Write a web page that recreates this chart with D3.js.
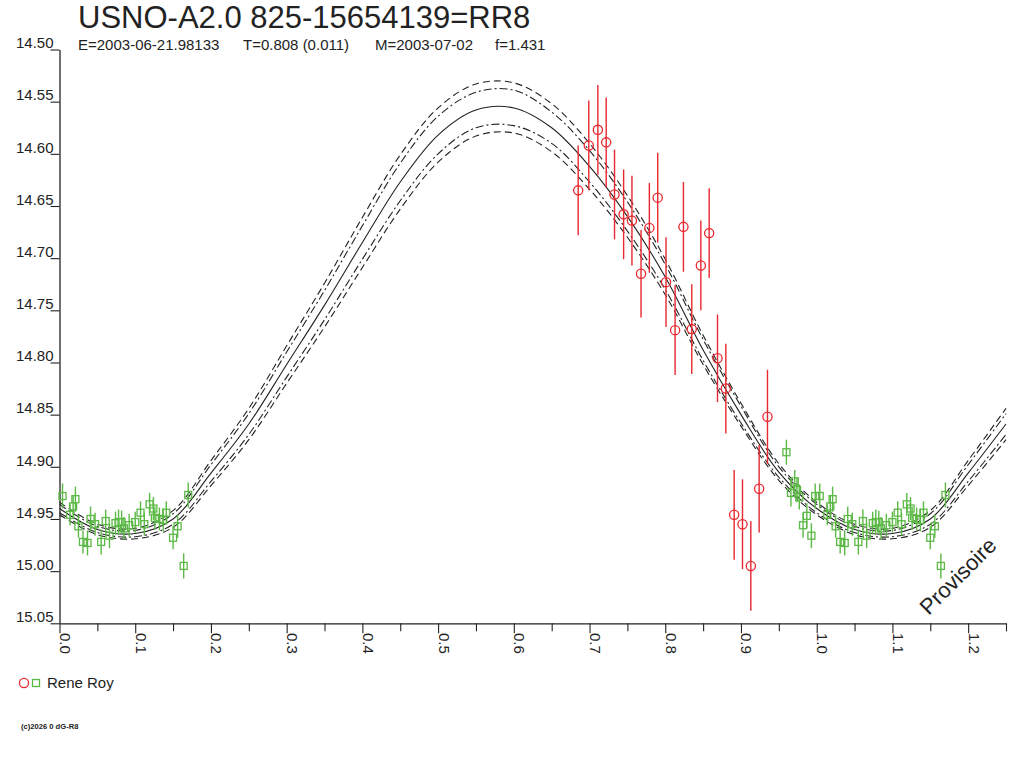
<!DOCTYPE html>
<html><head><meta charset="utf-8">
<script src="https://cdn.jsdelivr.net/npm/d3@7"></script>
<style>
body{margin:0;background:#fff}
svg{display:block}
text{font-family:"Liberation Sans",Arial,Helvetica,sans-serif;fill:#222}
</style>
</head><body>
<svg id="chart" width="1024" height="768"></svg>
<script>
// ---------- data ----------
const titleText = "USNO-A2.0 825-15654139=RR8";
const subtitleFields = ["E=2003-06-21.98133", "T=0.808 (0.011)", "M=2003-07-02", "f=1.431"];
const yTickValues = [14.50, 14.55, 14.60, 14.65, 14.70, 14.75, 14.80, 14.85, 14.90, 14.95, 15.00, 15.05];
const xTickValues = [0, 0.05, 0.1, 0.15, 0.2, 0.25, 0.3, 0.35, 0.4, 0.45, 0.5, 0.55, 0.6, 0.65, 0.7, 0.75, 0.8, 0.85, 0.9, 0.95, 1.0, 1.05, 1.1, 1.15, 1.2, 1.25];
const xLabelTicks = [0, 0.1, 0.2, 0.3, 0.4, 0.5, 0.6, 0.7, 0.8, 0.9, 1.0, 1.1, 1.2];

// model light curve (phase, magnitude) and band half-widths
const modelPhase = [0, 0.05, 0.1, 0.15, 0.2, 0.25, 0.3, 0.35, 0.4, 0.45, 0.5, 0.55, 0.6, 0.65, 0.7, 0.75, 0.8, 0.85, 0.9, 0.95, 1.0, 1.05, 1.1, 1.15, 1.2, 1.25];
const modelMid   = [14.940, 14.960, 14.964, 14.950, 14.906, 14.859, 14.802, 14.745, 14.685, 14.627, 14.582, 14.558, 14.556, 14.575, 14.612, 14.660, 14.718, 14.788, 14.850, 14.905, 14.940, 14.960, 14.964, 14.950, 14.906, 14.859];
const modelOuter = [0.006, 0.005, 0.005, 0.008, 0.012, 0.015, 0.018, 0.021, 0.024, 0.026, 0.026, 0.025, 0.024, 0.023, 0.022, 0.020, 0.017, 0.014, 0.011, 0.008, 0.006, 0.005, 0.005, 0.008, 0.012, 0.015];
const modelInner = [0.004, 0.003, 0.003, 0.005, 0.008, 0.010, 0.012, 0.014, 0.016, 0.018, 0.018, 0.017, 0.017, 0.015, 0.015, 0.014, 0.012, 0.010, 0.008, 0.005, 0.004, 0.003, 0.003, 0.005, 0.008, 0.010];

// observer Rene Roy, red circles
const redPhase = [0.685, 0.699, 0.711, 0.722, 0.733, 0.745, 0.756, 0.768, 0.779, 0.790, 0.801, 0.813, 0.824, 0.835, 0.847, 0.858, 0.869, 0.880, 0.891, 0.902, 0.913, 0.924, 0.935];
const redMag   = [14.635, 14.592, 14.577, 14.589, 14.639, 14.658, 14.664, 14.715, 14.671, 14.642, 14.723, 14.769, 14.670, 14.768, 14.707, 14.676, 14.796, 14.825, 14.946, 14.955, 14.995, 14.921, 14.852];
const redErr   = [0.043, 0.043, 0.043, 0.043, 0.043, 0.043, 0.043, 0.042, 0.043, 0.043, 0.043, 0.043, 0.043, 0.043, 0.043, 0.043, 0.042, 0.043, 0.043, 0.043, 0.043, 0.042, 0.045];

// observer Rene Roy, green squares
const greenPhase = [0.004, 0.014, 0.018, 0.021, 0.025, 0.031, 0.037, 0.041, 0.047, 0.055, 0.061, 0.066, 0.074, 0.078, 0.082, 0.085, 0.092, 0.100, 0.107, 0.112, 0.119, 0.124, 0.126, 0.132, 0.137, 0.141, 0.150, 0.156, 0.164, 0.170,
                    0.960, 0.966, 0.971, 0.974, 0.977, 0.982, 0.987, 0.993, 0.998];
const greenMag   = [14.928, 14.946, 14.938, 14.931, 14.957, 14.972, 14.973, 14.950, 14.955, 14.972, 14.952, 14.966, 14.954, 14.953, 14.953, 14.959, 14.956, 14.953, 14.944, 14.955, 14.936, 14.940, 14.949, 14.950, 14.951, 14.944, 14.968, 14.957, 14.995, 14.927,
                    14.886, 14.925, 14.914, 14.922, 14.929, 14.956, 14.947, 14.966, 14.928];
const greenErr   = [0.012, 0.010, 0.011, 0.012, 0.011, 0.011, 0.012, 0.012, 0.011, 0.012, 0.011, 0.012, 0.011, 0.012, 0.011, 0.011, 0.011, 0.010, 0.011, 0.011, 0.011, 0.011, 0.011, 0.011, 0.011, 0.011, 0.011, 0.011, 0.012, 0.012,
                    0.012, 0.013, 0.011, 0.012, 0.012, 0.012, 0.012, 0.012, 0.012];

const legendLabel = "Rene Roy";
const watermarkText = "Provisoire";
const footerText = "(c)2026 0 dG-R8";

// ---------- drawing ----------
const RED = "#e8282e", GREEN = "#5cb946", INK = "#222";
const svg = d3.select("#chart");
const x = d3.scaleLinear().domain([0, 1.25]).range([59.5, 1006]);
const y = d3.scaleLinear().domain([14.50, 15.05]).range([49.5, 623.3]);

// title
svg.append("text").attr("x", 78).attr("y", 28).style("font-size", "31px").text(titleText);
const subX = [78, 243, 375, 495];
svg.selectAll("text.sub").data(subtitleFields).join("text").attr("class", "sub")
  .attr("x", (d, i) => subX[i]).attr("y", 50).style("font-size", "15px").text(d => d);

// Y axis
const yAxis = svg.append("g").attr("transform", "translate(59.5,0)")
  .call(d3.axisLeft(y).tickValues(yTickValues).tickFormat(d3.format(".2f")).tickSize(9).tickSizeOuter(0));
yAxis.select(".domain").attr("stroke", INK).attr("stroke-width", 1.3);
yAxis.selectAll(".tick line").attr("stroke", INK).attr("stroke-width", 1.1);
yAxis.selectAll(".tick text").attr("x", -6).attr("dy", "-0.12em").style("font-size", "15px").attr("fill", INK);

// X axis
const xAxis = svg.append("g").attr("transform", "translate(0,623.3)")
  .call(d3.axisBottom(x).tickValues(xTickValues).tickFormat("").tickSize(9).tickSizeOuter(0));
xAxis.select(".domain").attr("stroke", INK).attr("stroke-width", 1.3);
xAxis.selectAll(".tick line").attr("stroke", INK).attr("stroke-width", 1.1)
  .attr("y2", d => xLabelTicks.some(t => Math.abs(t - d) < 1e-9) ? 10 : 8);
svg.append("g").selectAll("text").data(xLabelTicks).join("text")
  .attr("transform", d => `translate(${x(d) + 0.5},633) rotate(90)`)
  .style("font-size", "15px").text(d3.format(".1f"));

// model curves
const pts = (off, sign) => modelPhase.map((p, i) => [p, modelMid[i] + sign * (off ? off[i] : 0)]);
const line = d3.line().x(d => x(d[0])).y(d => y(d[1])).curve(d3.curveCatmullRom.alpha(0.5));
const curves = [
  {d: pts(modelOuter, -1), dash: "7,4"},
  {d: pts(modelInner, -1), dash: "8,3,2,3"},
  {d: pts(null, 0), dash: null},
  {d: pts(modelInner, 1), dash: "8,3,2,3"},
  {d: pts(modelOuter, 1), dash: "7,4"}
];
svg.append("g").selectAll("path").data(curves).join("path")
  .attr("d", c => line(c.d)).attr("fill", "none").attr("stroke", INK)
  .attr("stroke-width", 1.1).attr("stroke-dasharray", c => c.dash);

// green (folded in phase)
const greenPts = [];
greenPhase.forEach((p, i) => {
  [-1, 0, 1].forEach(k => {
    const q = p + k;
    if (q >= 0 && q <= 1.25) greenPts.push({p: q, m: greenMag[i], e: greenErr[i]});
  });
});
const gG = svg.append("g");
gG.selectAll("line").data(greenPts).join("line")
  .attr("x1", d => x(d.p)).attr("x2", d => x(d.p))
  .attr("y1", d => y(d.m - d.e)).attr("y2", d => y(d.m + d.e))
  .attr("stroke", GREEN).attr("stroke-width", 1.4);
gG.selectAll("rect").data(greenPts).join("rect")
  .attr("x", d => x(d.p) - 3.5).attr("y", d => y(d.m) - 3.5).attr("width", 7).attr("height", 7)
  .attr("fill", "none").attr("stroke", GREEN).attr("stroke-width", 1.3);

// red
const redPts = redPhase.map((p, i) => ({p, m: redMag[i], e: redErr[i]}));
const gR = svg.append("g");
gR.selectAll("line").data(redPts).join("line")
  .attr("x1", d => x(d.p)).attr("x2", d => x(d.p))
  .attr("y1", d => y(d.m - d.e)).attr("y2", d => y(d.m + d.e))
  .attr("stroke", RED).attr("stroke-width", 1.4);
gR.selectAll("circle").data(redPts).join("circle")
  .attr("cx", d => x(d.p)).attr("cy", d => y(d.m)).attr("r", 4.6)
  .attr("fill", "none").attr("stroke", RED).attr("stroke-width", 1.3);

// watermark
svg.append("text").attr("transform", "translate(958,576) rotate(-45)")
  .attr("text-anchor", "middle").attr("dominant-baseline", "central")
  .style("font-size", "22px").attr("fill", INK).text(watermarkText);

// legend
svg.append("circle").attr("cx", 24).attr("cy", 683).attr("r", 4.6).attr("fill", "none").attr("stroke", RED).attr("stroke-width", 1.3);
svg.append("rect").attr("x", 32.5).attr("y", 679.5).attr("width", 7).attr("height", 7).attr("fill", "none").attr("stroke", GREEN).attr("stroke-width", 1.3);
svg.append("text").attr("x", 47).attr("y", 688).style("font-size", "15px").text(legendLabel);

// footer
svg.append("text").attr("x", 21).attr("y", 729).style("font-size", "7.6px").style("font-weight", "bold").text(footerText);
</script>
</body></html>
